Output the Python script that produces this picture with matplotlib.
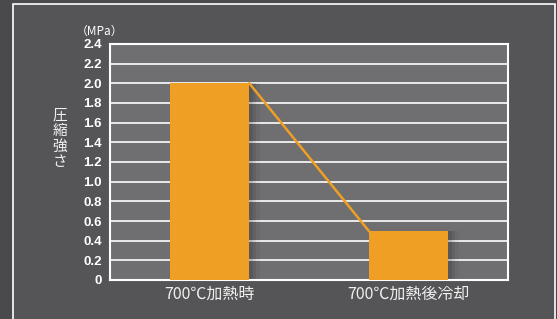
import matplotlib.pyplot as plt
from matplotlib.patches import Rectangle

plt.rcParams['font.family'] = ['Noto Sans CJK JP', 'DejaVu Sans']

# data
categories = ['700℃加熱時', '700℃加熱後冷却']
values = [2.0, 0.5]
yticks = [0, 0.2, 0.4, 0.6, 0.8, 1.0, 1.2, 1.4, 1.6, 1.8, 2.0, 2.2, 2.4]
ytick_labels = ['0', '0.2', '0.4', '0.6', '0.8', '1.0', '1.2', '1.4', '1.6', '1.8', '2.0', '2.2', '2.4']

orange = '#ee9f24'
W, H = 557, 319
fig = plt.figure(figsize=(W / 100, H / 100), dpi=100, facecolor='#4a4a4c')

# outer framed panel
fig.patches.append(Rectangle((13 / W, -0.05), (555 - 13) / W, (H - 4) / H + 0.05,
                             transform=fig.transFigure, facecolor='#555557',
                             edgecolor='white', linewidth=1.2, zorder=-5))

ax = fig.add_axes([110 / W, 1 - 280 / H, (508 - 110) / W, (280 - 44) / H])
ax.set_zorder(2)
ax.set_facecolor('#6f6f71')

x = list(range(len(categories)))
bw = 0.4
# soft shadow behind bars
for i, v in zip(x, values):
    for k, a in enumerate([0.10, 0.07, 0.04]):
        off = 0.012 * (k + 1)
        ax.bar(i + off, v, width=bw + off, color='black', alpha=a, zorder=2, linewidth=0)
ax.bar(x, values, width=bw, color=orange, zorder=3, linewidth=0)

# connecting line from top-right of bar 1 to top-left of bar 2
ax.plot([x[0] + bw / 2, x[1] - bw / 2], [values[0], values[1]], color=orange, lw=1.8, zorder=4)

ax.set_xlim(-0.5, 1.5)
ax.set_ylim(0, 2.4)
ax.set_yticks(yticks)
ax.set_yticklabels(ytick_labels, fontsize=9.5, fontweight='bold', color='white',
                   family=['Liberation Sans', 'DejaVu Sans'])
ax.set_xticks(x)
ax.set_xticklabels(categories, fontsize=11.5, color='#f0f0f0')
ax.tick_params(axis='y', length=0, pad=6)
ax.tick_params(axis='x', length=0, pad=4)
ax.grid(axis='y', color='white', lw=1.2, zorder=1)
ax.set_axisbelow(True)
for s in ax.spines.values():
    s.set_color('white')
    s.set_linewidth(1.5)

fig.text(60 / W, 1 - 139 / H, '圧\n縮\n強\nさ', fontsize=10.5, color='#f0f0f0',
         ha='center', va='center', linespacing=1.15)
fig.text(100 / W, 1 - 31 / H, '（MPa）', fontsize=8.5, color='white', ha='center', va='center')

fig.savefig('out.png', dpi=100, facecolor=fig.get_facecolor())
